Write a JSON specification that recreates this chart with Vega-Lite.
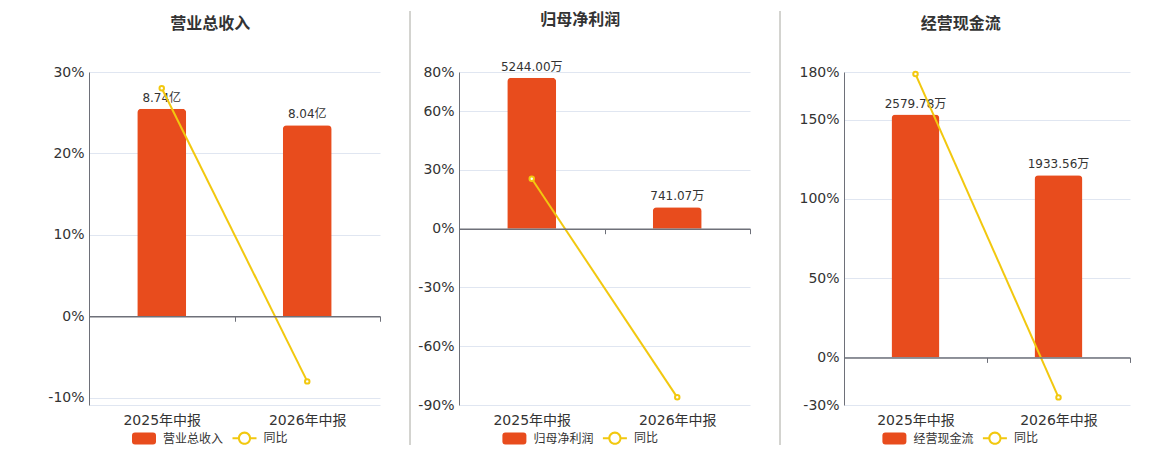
{
  "$schema": "https://vega.github.io/schema/vega-lite/v6.json",
  "description": "营业总收入 / 归母净利润 / 经营现金流 with 同比",
  "background": "white",
  "padding": {"left": 47, "top": 10, "right": 0, "bottom": 0},
  "bounds": "flush",
  "spacing": 30,
  "config": {
    "view": {"stroke": null},
    "font": "DejaVu Sans, Noto Sans CJK SC",
    "title": {"font": "Noto Sans CJK SC", "fontSize": 16, "fontWeight": "bold", "color": "#333333", "anchor": "middle", "frame": "bounds", "offset": 33, "dx": -4},
    "axis": {"labelFont": "DejaVu Sans, Noto Sans CJK SC", "labelFontSize": 14, "labelColor": "#333333", "domainColor": "#6E7079", "gridColor": "#E0E6F1", "title": null},
    "legend": {"labelFont": "DejaVu Sans, Noto Sans CJK SC", "labelFontSize": 12, "labelColor": "#333333"}
  },
  "resolve": {"scale": {"color": "independent"}, "legend": {"color": "independent"}},
  "hconcat": [
    {
      "width": 291,
      "height": 333,
      "title": {"text": "营业总收入", "frame": "bounds", "dx": -4},
      "data": {"values": [
        {"period": "2025年中报", "amount": 8.74, "label": "8.74亿", "yoy": 28.0},
        {"period": "2026年中报", "amount": 8.04, "label": "8.04亿", "yoy": -8.0}
      ]},
      "encoding": {
        "x": {"field": "period", "type": "nominal", "sort": null,
          "scale": {"paddingInner": 0, "paddingOuter": 0},
          "axis": {"orient": "bottom", "offset": -88.75, "labelPadding": 92.5, "labelAngle": 0, "tickBand": "extent", "tickSize": 5, "tickColor": "#6E7079", "domainWidth": 1.5, "grid": false, "zindex": 1}}
      },
      "layer": [
        {
          "encoding": {"y": {"field": "amount", "type": "quantitative", "scale": {"domain": [-3.736, 10.282], "nice": false, "zero": false}, "axis": null}},
          "layer": [
            {"mark": {"type": "bar", "width": 49, "cornerRadiusTopLeft": 4, "cornerRadiusTopRight": 4},
             "encoding": {"color": {"datum": "营业总收入", "type": "nominal",
               "scale": {"domain": ["营业总收入", "同比"], "range": ["#E84C1D", "#F2C80F"]},
               "legend": {"title": null, "orient": "none", "legendX": 43, "legendY": 354, "direction": "horizontal", "symbolSize": 576, "labelOffset": 7, "columnPadding": 8.5,
                 "encode": {"symbols": {"update": {
                   "shape": {"signal": "datum.value === '同比' ? 'M-1,-0.083L-0.5,-0.083L-0.5,0.083L-1,0.083ZM0.5,-0.083L1,-0.083L1,0.083L0.5,0.083ZM0.55,0A0.55,0.55 0 1 1 -0.55,0A0.55,0.55 0 1 1 0.55,0ZM0.38,0A0.38,0.38 0 1 0 -0.38,0A0.38,0.38 0 1 0 0.38,0Z' : 'M-0.75,-0.5L0.75,-0.5Q1,-0.5 1,-0.25L1,0.25Q1,0.5 0.75,0.5L-0.75,0.5Q-1,0.5 -1,0.25L-1,-0.25Q-1,-0.5 -0.75,-0.5Z'"},
                   "fill": {"signal": "datum.value === '同比' ? '#F2C80F' : '#E84C1D'"},
                   "strokeWidth": {"value": 0},
                   "opacity": {"value": 1},
                   "fillOpacity": {"value": 1}
                 }}}}}}},
            {"mark": {"type": "text", "baseline": "bottom", "dy": -4, "fontSize": 12, "color": "#333333"},
             "encoding": {"text": {"field": "label"}}}
          ]
        },
        {
          "encoding": {"y": {"field": "yoy", "type": "quantitative", "scale": {"domain": [-10.9, 30], "nice": false, "zero": false},
            "axis": {"orient": "left", "values": [-10.9, -10, 0, 10, 20, 30], "labelExpr": "datum.value < -10.5 ? '' : datum.value + '%'", "ticks": false, "labelPadding": 5, "grid": true}}},
          "layer": [
            {"mark": {"type": "line", "strokeWidth": 2},
             "encoding": {"color": {"datum": "同比", "type": "nominal"}}},
            {"mark": {"type": "point", "filled": true, "fill": "#ffffff", "stroke": "#F2C80F", "strokeWidth": 2, "size": 20, "opacity": 1}}
          ]
        }
      ],
      "resolve": {"scale": {"y": "independent"}}
    },
    {
      "width": 19,
      "height": 333,
      "data": {"values": [{"edge": 0}]},
      "mark": {"type": "rule", "color": "#A8A8A0", "strokeWidth": 1},
      "encoding": {
        "x": {"field": "edge", "type": "quantitative", "scale": {"domain": [0, 1]}, "axis": null},
        "y": {"datum": 1.1832, "type": "quantitative", "scale": {"domain": [0, 1]}, "axis": null},
        "y2": {"datum": -0.1201}
      }
    },
    {
      "width": 291,
      "height": 333,
      "title": {"text": "归母净利润", "frame": "bounds", "dx": -4},
      "data": {"values": [
        {"period": "2025年中报", "amount": 5244.00, "label": "5244.00万", "yoy": 25.5},
        {"period": "2026年中报", "amount": 741.07, "label": "741.07万", "yoy": -86.1}
      ]},
      "encoding": {
        "x": {"field": "period", "type": "nominal", "sort": null,
          "scale": {"paddingInner": 0, "paddingOuter": 0},
          "axis": {"orient": "bottom", "offset": -176.3, "labelPadding": 180.1, "labelAngle": 0, "tickBand": "extent", "tickSize": 5, "tickColor": "#6E7079", "domainWidth": 1.5, "grid": false, "zindex": 1}}
      },
      "layer": [
        {
          "encoding": {"y": {"field": "amount", "type": "quantitative", "scale": {"domain": [-6121.5, 5441.3], "nice": false, "zero": false}, "axis": null}},
          "layer": [
            {"mark": {"type": "bar", "width": 49, "cornerRadiusTopLeft": 4, "cornerRadiusTopRight": 4},
             "encoding": {"color": {"datum": "归母净利润", "type": "nominal",
               "scale": {"domain": ["归母净利润", "同比"], "range": ["#E84C1D", "#F2C80F"]},
               "legend": {"title": null, "orient": "none", "legendX": 43.4, "legendY": 354, "direction": "horizontal", "symbolSize": 576, "labelOffset": 7, "columnPadding": 8.5,
                 "encode": {"symbols": {"update": {
                   "shape": {"signal": "datum.value === '同比' ? 'M-1,-0.083L-0.5,-0.083L-0.5,0.083L-1,0.083ZM0.5,-0.083L1,-0.083L1,0.083L0.5,0.083ZM0.55,0A0.55,0.55 0 1 1 -0.55,0A0.55,0.55 0 1 1 0.55,0ZM0.38,0A0.38,0.38 0 1 0 -0.38,0A0.38,0.38 0 1 0 0.38,0Z' : 'M-0.75,-0.5L0.75,-0.5Q1,-0.5 1,-0.25L1,0.25Q1,0.5 0.75,0.5L-0.75,0.5Q-1,0.5 -1,0.25L-1,-0.25Q-1,-0.5 -0.75,-0.5Z'"},
                   "fill": {"signal": "datum.value === '同比' ? '#F2C80F' : '#E84C1D'"},
                   "strokeWidth": {"value": 0},
                   "opacity": {"value": 1},
                   "fillOpacity": {"value": 1}
                 }}}}}}},
            {"mark": {"type": "text", "baseline": "bottom", "dy": -4, "fontSize": 12, "color": "#333333"},
             "encoding": {"text": {"field": "label"}}}
          ]
        },
        {
          "encoding": {"y": {"field": "yoy", "type": "quantitative", "scale": {"domain": [-90, 80], "nice": false, "zero": false},
            "axis": {"orient": "left", "values": [-90, -60, -30, 0, 30, 60, 80], "labelExpr": "datum.value + '%'", "ticks": false, "labelPadding": 5, "grid": true}}},
          "layer": [
            {"mark": {"type": "line", "strokeWidth": 2},
             "encoding": {"color": {"datum": "同比", "type": "nominal"}}},
            {"mark": {"type": "point", "filled": true, "fill": "#ffffff", "stroke": "#F2C80F", "strokeWidth": 2, "size": 20, "opacity": 1}}
          ]
        }
      ],
      "resolve": {"scale": {"y": "independent"}}
    },
    {
      "width": 34,
      "height": 333,
      "data": {"values": [{"edge": 0}]},
      "mark": {"type": "rule", "color": "#A8A8A0", "strokeWidth": 1},
      "encoding": {
        "x": {"field": "edge", "type": "quantitative", "scale": {"domain": [0, 1]}, "axis": null},
        "y": {"datum": 1.1832, "type": "quantitative", "scale": {"domain": [0, 1]}, "axis": null},
        "y2": {"datum": -0.1201}
      }
    },
    {
      "width": 286,
      "height": 333,
      "title": {"text": "经营现金流", "frame": "bounds", "dx": -4},
      "data": {"values": [
        {"period": "2025年中报", "amount": 2579.78, "label": "2579.78万", "yoy": 178.7},
        {"period": "2026年中报", "amount": 1933.56, "label": "1933.56万", "yoy": -25.2}
      ]},
      "encoding": {
        "x": {"field": "period", "type": "nominal", "sort": null,
          "scale": {"paddingInner": 0, "paddingOuter": 0},
          "axis": {"orient": "bottom", "offset": -47.6, "labelPadding": 51.3, "labelAngle": 0, "tickBand": "extent", "tickSize": 5, "tickColor": "#6E7079", "domainWidth": 1.5, "grid": false, "zindex": 1}}
      },
      "layer": [
        {
          "encoding": {"y": {"field": "amount", "type": "quantitative", "scale": {"domain": [-505.2, 3031.2], "nice": false, "zero": false}, "axis": null}},
          "layer": [
            {"mark": {"type": "bar", "width": 48, "cornerRadiusTopLeft": 4, "cornerRadiusTopRight": 4},
             "encoding": {"color": {"datum": "经营现金流", "type": "nominal",
               "scale": {"domain": ["经营现金流", "同比"], "range": ["#E84C1D", "#F2C80F"]},
               "legend": {"title": null, "orient": "none", "legendX": 38.4, "legendY": 354, "direction": "horizontal", "symbolSize": 576, "labelOffset": 7, "columnPadding": 8.5,
                 "encode": {"symbols": {"update": {
                   "shape": {"signal": "datum.value === '同比' ? 'M-1,-0.083L-0.5,-0.083L-0.5,0.083L-1,0.083ZM0.5,-0.083L1,-0.083L1,0.083L0.5,0.083ZM0.55,0A0.55,0.55 0 1 1 -0.55,0A0.55,0.55 0 1 1 0.55,0ZM0.38,0A0.38,0.38 0 1 0 -0.38,0A0.38,0.38 0 1 0 0.38,0Z' : 'M-0.75,-0.5L0.75,-0.5Q1,-0.5 1,-0.25L1,0.25Q1,0.5 0.75,0.5L-0.75,0.5Q-1,0.5 -1,0.25L-1,-0.25Q-1,-0.5 -0.75,-0.5Z'"},
                   "fill": {"signal": "datum.value === '同比' ? '#F2C80F' : '#E84C1D'"},
                   "strokeWidth": {"value": 0},
                   "opacity": {"value": 1},
                   "fillOpacity": {"value": 1}
                 }}}}}}},
            {"mark": {"type": "text", "baseline": "bottom", "dy": -4, "fontSize": 12, "color": "#333333"},
             "encoding": {"text": {"field": "label"}}}
          ]
        },
        {
          "encoding": {"y": {"field": "yoy", "type": "quantitative", "scale": {"domain": [-30, 180], "nice": false, "zero": false},
            "axis": {"orient": "left", "values": [-30, 0, 50, 100, 150, 180], "labelExpr": "datum.value + '%'", "ticks": false, "labelPadding": 5, "grid": true}}},
          "layer": [
            {"mark": {"type": "line", "strokeWidth": 2},
             "encoding": {"color": {"datum": "同比", "type": "nominal"}}},
            {"mark": {"type": "point", "filled": true, "fill": "#ffffff", "stroke": "#F2C80F", "strokeWidth": 2, "size": 20, "opacity": 1}}
          ]
        }
      ],
      "resolve": {"scale": {"y": "independent"}}
    }
  ]
}
